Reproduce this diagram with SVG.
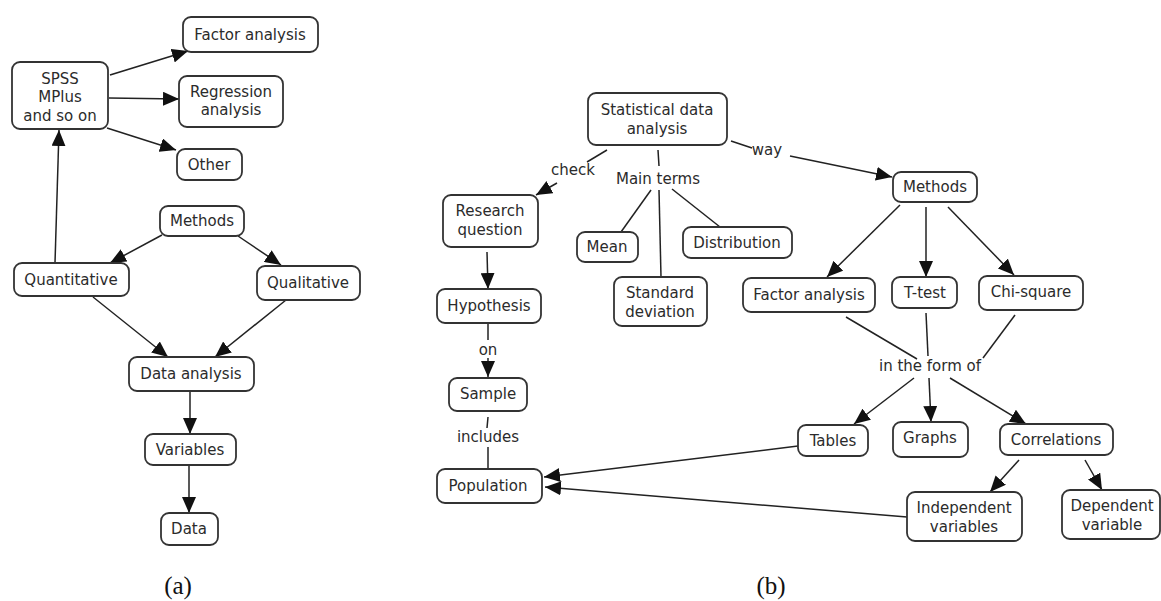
<svg xmlns="http://www.w3.org/2000/svg" width="1161" height="601" viewBox="0 0 1161 601">
<defs>
<marker id="ah" markerUnits="userSpaceOnUse" markerWidth="16" markerHeight="14" refX="16" refY="7" orient="auto"><path d="M0,0 L16,7 L0,14 z" fill="#111"/></marker>
<style>
.n rect{fill:#fff;stroke:#333;stroke-width:1.8}
.n text,.lbl{font-family:"DejaVu Sans",Verdana,sans-serif;font-size:15px;fill:#2b2b2b;text-anchor:middle}
.c line{stroke:#222;stroke-width:1.5;fill:none}
.a{marker-end:url(#ah)}
.cap{font-family:"Liberation Serif",serif;font-size:25px;fill:#111;text-anchor:middle}
</style>
</defs>
<rect width="1161" height="601" fill="#fff"/>
<g class="c">
<!-- panel a -->
<line class="a" x1="110" y1="75" x2="188" y2="51"/>
<line class="a" x1="109" y1="98" x2="179" y2="99"/>
<line class="a" x1="107" y1="128" x2="176" y2="150"/>
<line class="a" x1="55" y1="263" x2="59" y2="130"/>
<line class="a" x1="162" y1="235" x2="110" y2="263"/>
<line class="a" x1="238" y1="236" x2="281" y2="265"/>
<line class="a" x1="93" y1="297" x2="168" y2="357"/>
<line class="a" x1="286" y1="300" x2="215" y2="357"/>
<line class="a" x1="190" y1="391" x2="190" y2="434"/>
<line class="a" x1="189" y1="465" x2="189" y2="513"/>
<!-- panel b -->
<line x1="607" y1="150" x2="587" y2="162"/>
<line class="a" x1="557" y1="183" x2="536" y2="195"/>
<line x1="731" y1="141" x2="752" y2="148"/>
<line class="a" x1="790" y1="156" x2="892" y2="177"/>
<line x1="658" y1="150" x2="659" y2="166"/>
<line x1="651" y1="190" x2="621" y2="232"/>
<line x1="659" y1="190" x2="661" y2="277"/>
<line x1="672" y1="189" x2="720" y2="227"/>
<line class="a" x1="487" y1="252" x2="488" y2="289"/>
<line x1="488" y1="323" x2="488" y2="340"/>
<line class="a" x1="488" y1="358" x2="488" y2="377"/>
<line x1="488" y1="417" x2="487" y2="428"/>
<line x1="488" y1="447" x2="488" y2="469"/>
<line class="a" x1="798" y1="446" x2="544" y2="477"/>
<line class="a" x1="907" y1="517" x2="545" y2="487"/>
<line class="a" x1="900" y1="205" x2="827" y2="277"/>
<line class="a" x1="926" y1="207" x2="926" y2="277"/>
<line class="a" x1="948" y1="207" x2="1014" y2="275"/>
<line x1="846" y1="317" x2="917" y2="359"/>
<line x1="926" y1="313" x2="928" y2="356"/>
<line x1="1015" y1="315" x2="983" y2="358"/>
<line class="a" x1="914" y1="378" x2="854" y2="424"/>
<line class="a" x1="929" y1="378" x2="931" y2="422"/>
<line class="a" x1="950" y1="378" x2="1026" y2="424"/>
<line class="a" x1="1019" y1="460" x2="990" y2="492"/>
<line class="a" x1="1085" y1="460" x2="1102" y2="490"/>
</g>
<!-- connector labels -->
<text class="lbl" x="767" y="155">way</text>
<text class="lbl" x="573" y="175">check</text>
<text class="lbl" x="658" y="184">Main terms</text>
<text class="lbl" x="488" y="355">on</text>
<text class="lbl" x="488" y="442">includes</text>
<text class="lbl" x="930" y="371">in the form of</text>
<!-- panel a nodes -->
<g id="a-factor" class="n"><rect x="183" y="17" width="135" height="35" rx="8"/><text x="250" y="40">Factor analysis</text></g>
<g id="a-spss" class="n"><rect x="12" y="62" width="96" height="67" rx="8"/><text x="60" y="84">SPSS</text><text x="60" y="102">MPlus</text><text x="60" y="121">and so on</text></g>
<g id="a-regression" class="n"><rect x="179" y="76" width="104" height="51" rx="8"/><text x="231" y="97">Regression</text><text x="231" y="115">analysis</text></g>
<g id="a-other" class="n"><rect x="177" y="149" width="65" height="31" rx="8"/><text x="209" y="170">Other</text></g>
<g id="a-methods" class="n"><rect x="160" y="206" width="84" height="30" rx="8"/><text x="202" y="226">Methods</text></g>
<g id="a-quantitative" class="n"><rect x="14" y="263" width="115" height="33" rx="8"/><text x="71" y="285">Quantitative</text></g>
<g id="a-qualitative" class="n"><rect x="257" y="266" width="103" height="34" rx="8"/><text x="308" y="288">Qualitative</text></g>
<g id="a-dataanalysis" class="n"><rect x="129" y="357" width="125" height="34" rx="8"/><text x="191" y="379">Data analysis</text></g>
<g id="a-variables" class="n"><rect x="145" y="434" width="91" height="31" rx="8"/><text x="190" y="455">Variables</text></g>
<g id="a-data" class="n"><rect x="161" y="513" width="57" height="32" rx="8"/><text x="189" y="534">Data</text></g>
<!-- panel b nodes -->
<g id="b-stat" class="n"><rect x="588" y="93" width="139" height="52" rx="8"/><text x="657" y="115">Statistical data</text><text x="657" y="134">analysis</text></g>
<g id="b-methods" class="n"><rect x="893" y="172" width="84" height="30" rx="8"/><text x="935" y="192">Methods</text></g>
<g id="b-research" class="n"><rect x="443" y="195" width="95" height="52" rx="8"/><text x="490" y="216">Research</text><text x="490" y="235">question</text></g>
<g id="b-mean" class="n"><rect x="577" y="232" width="61" height="30" rx="8"/><text x="607" y="252">Mean</text></g>
<g id="b-distribution" class="n"><rect x="683" y="227" width="109" height="31" rx="8"/><text x="737" y="248">Distribution</text></g>
<g id="b-stddev" class="n"><rect x="614" y="277" width="93" height="49" rx="8"/><text x="660" y="298">Standard</text><text x="660" y="317">deviation</text></g>
<g id="b-hypothesis" class="n"><rect x="437" y="289" width="104" height="34" rx="8"/><text x="489" y="311">Hypothesis</text></g>
<g id="b-sample" class="n"><rect x="449" y="378" width="78" height="33" rx="8"/><text x="488" y="399">Sample</text></g>
<g id="b-population" class="n"><rect x="437" y="469" width="105" height="34" rx="8"/><text x="488" y="491">Population</text></g>
<g id="b-factor" class="n"><rect x="743" y="278" width="132" height="34" rx="8"/><text x="809" y="300">Factor analysis</text></g>
<g id="b-ttest" class="n"><rect x="892" y="277" width="65" height="31" rx="8"/><text x="925" y="298">T-test</text></g>
<g id="b-chisquare" class="n"><rect x="979" y="276" width="104" height="34" rx="8"/><text x="1031" y="297">Chi-square</text></g>
<g id="b-tables" class="n"><rect x="798" y="425" width="70" height="31" rx="8"/><text x="833" y="446">Tables</text></g>
<g id="b-graphs" class="n"><rect x="893" y="422" width="75" height="35" rx="8"/><text x="930" y="443">Graphs</text></g>
<g id="b-correlations" class="n"><rect x="1000" y="424" width="113" height="31" rx="8"/><text x="1056" y="445">Correlations</text></g>
<g id="b-independent" class="n"><rect x="907" y="492" width="115" height="49" rx="8"/><text x="964" y="513">Independent</text><text x="964" y="532">variables</text></g>
<g id="b-dependent" class="n"><rect x="1062" y="490" width="98" height="49" rx="8"/><text x="1112" y="511">Dependent</text><text x="1112" y="530">variable</text></g>
<text class="cap" x="178" y="594">(a)</text>
<text class="cap" x="771" y="594">(b)</text>
</svg>
